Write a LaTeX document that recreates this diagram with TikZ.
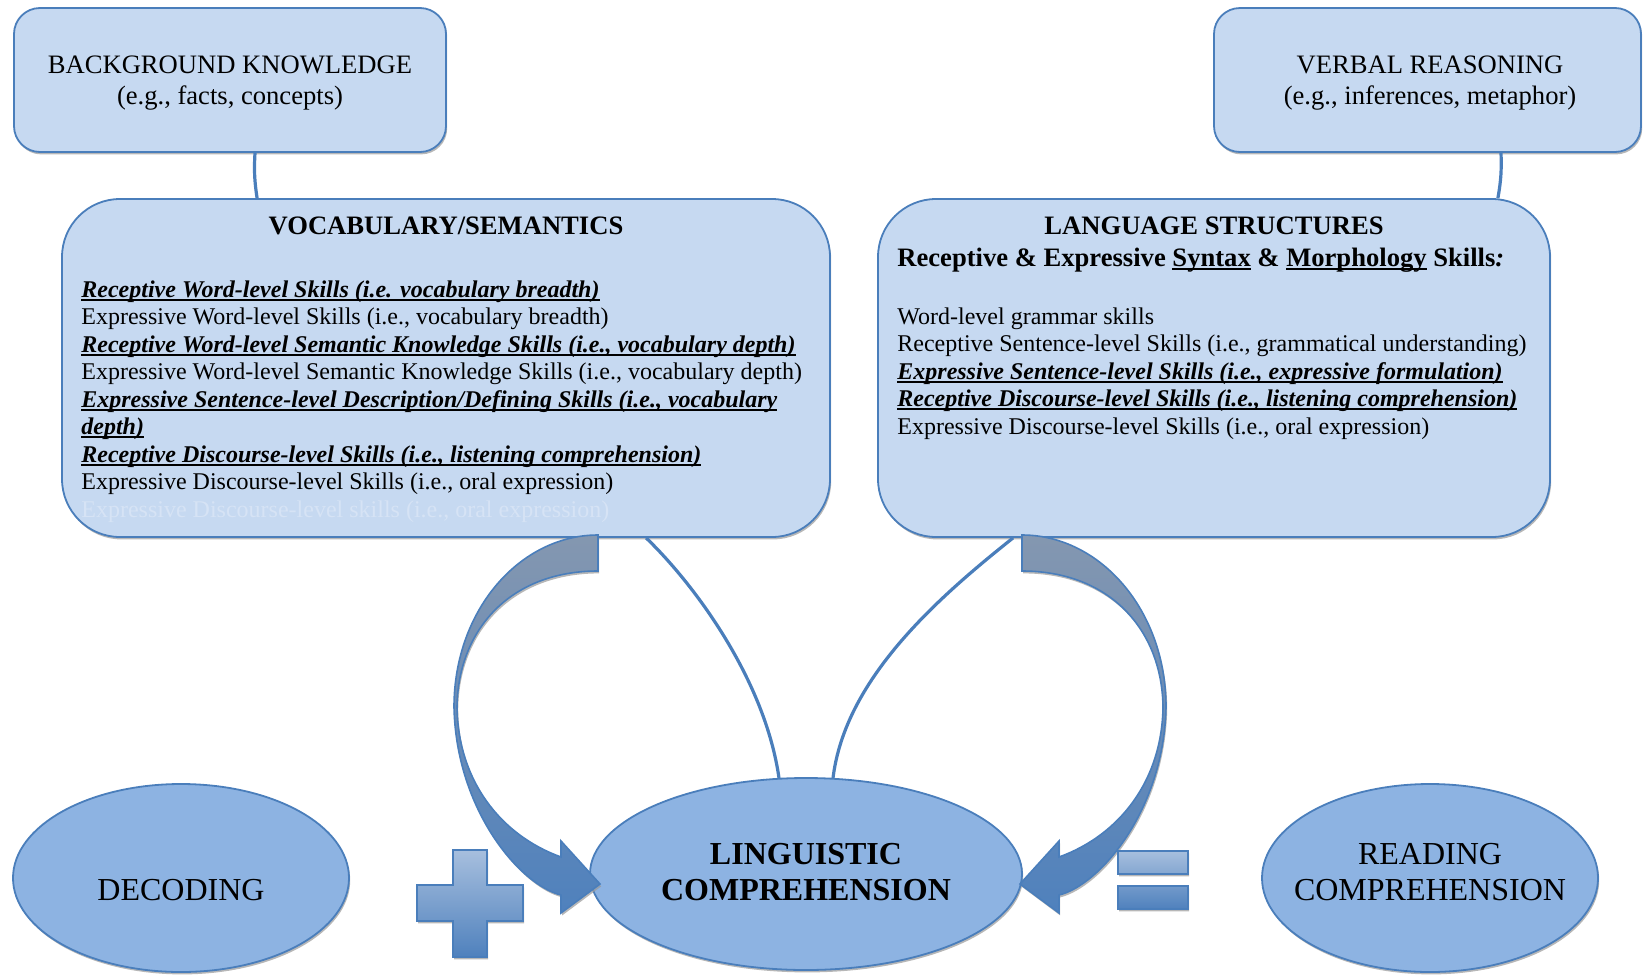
\documentclass[tikz,border=0pt]{standalone}
\usepackage{fontspec}
\setmainfont{Liberation Serif}
\usetikzlibrary{shapes.geometric,shadows,calc}
\definecolor{boxfill}{RGB}{198,217,241}
\definecolor{ovalfill}{RGB}{141,179,226}
\definecolor{edgeblue}{RGB}{74,126,187}
\definecolor{arrowgray}{RGB}{132,151,176}
\definecolor{arrowblue}{RGB}{79,129,189}
\definecolor{signtop}{RGB}{167,191,222}
\definecolor{faint}{RGB}{214,227,245}
\newcommand{\ulin}[1]{\setbox0\hbox{#1}\rlap{\vrule height -0.9pt depth 1.9pt width \wd0}\box0\relax}
\newcommand{\skillul}[1]{\ulin{\textbf{\textit{#1}}}}
\tikzset{
soft shadow/.style={drop shadow={shadow xshift=0.6pt,shadow yshift=-1.2pt,fill=black!40,opacity=.7}},
top box/.style={rectangle,rounded corners=13pt,draw=edgeblue,line width=0.9pt,fill=boxfill,soft shadow,minimum height=72pt},
top text/.style={align=center,inner sep=0pt,font=\fontsize{13.3}{15.7}\selectfont},
skill box/.style={rectangle,rounded corners=29pt,draw=edgeblue,line width=0.9pt,fill=boxfill,soft shadow,minimum height=169pt},
box title/.style={anchor=base,inner sep=0pt,font=\fontsize{13.3}{16}\selectfont\bfseries},
skill text/.style={inner sep=0pt,align=left,anchor=north west,font=\fontsize{12}{13.75}\selectfont},
main oval/.style={ellipse,draw=edgeblue,line width=0.9pt,fill=ovalfill,soft shadow,inner sep=0pt},
oval text/.style={align=center,inner sep=0pt,font=\fontsize{16}{18.3}\selectfont},
link/.style={draw=edgeblue,line width=1.6pt},
block arrow/.style={draw=edgeblue,line width=0.8pt,top color=arrowgray,bottom color=arrowblue,soft shadow},
sign/.style={draw=edgeblue,line width=0.8pt,top color=signtop,bottom color=arrowblue,soft shadow}}

\begin{document}
\begin{tikzpicture}[x=0.5pt,y=-0.5pt]
\useasboundingbox (0,0) rectangle (1643,975);

% top boxes
\node[top box,minimum width=216pt] (bk) at (230,80) {};
\node[top box,minimum width=213.5pt] (vr) at (1427.5,80) {};
\node[top text] (bktxt) at (230,83) {BACKGROUND KNOWLEDGE\\(e.g., facts, concepts)};
\node[top text] (vrtxt) at (1430,83) {VERBAL REASONING\\(e.g., inferences, metaphor)};

% skill boxes
\node[skill box,minimum width=384pt] (vocab) at (446,368) {};
\node[skill box,minimum width=336pt] (lang) at (1214,368) {};

\node[box title] (vocabtitle) at (446,234) {VOCABULARY/SEMANTICS};
\node[box title] (langtitle) at (1214,234) {LANGUAGE STRUCTURES};
\node[box title,anchor=base west] (langsub) at (897,266) {Receptive \& Expressive \ulin{Syntax} \& \ulin{Morphology} Skills\textit{:}};

\node[skill text] (vocabtxt) at (81,280) {%
\skillul{Receptive Word-level Skills (i.e. vocabulary breadth)}\\
Expressive Word-level Skills (i.e., vocabulary breadth)\\
\skillul{Receptive Word-level Semantic Knowledge Skills (i.e., vocabulary depth)}\\
Expressive Word-level Semantic Knowledge Skills (i.e., vocabulary depth)\\
\skillul{Expressive Sentence-level Description/Defining Skills (i.e., vocabulary}\\
\skillul{depth)}\\
\skillul{Receptive Discourse-level Skills (i.e., listening comprehension)}\\
Expressive Discourse-level Skills (i.e., oral expression)\\
\textcolor{faint}{Expressive Discourse-level skills (i.e., oral expression)}};

\node[skill text] (langtxt) at (897,307) {%
Word-level grammar skills\\
Receptive Sentence-level Skills (i.e., grammatical understanding)\\
\skillul{Expressive Sentence-level Skills (i.e., expressive formulation)}\\
\skillul{Receptive Discourse-level Skills (i.e., listening comprehension)}\\
Expressive Discourse-level Skills (i.e., oral expression)};

% bottom row
\node[main oval,minimum width=168pt,minimum height=94pt] (dec) at (181,878) {};
\node[main oval,minimum width=216pt,minimum height=96pt] (ling) at (806,874) {};
\node[main oval,minimum width=168pt,minimum height=94pt] (read) at (1430,878) {};
\node[oval text,anchor=base] (dectxt) at (181,900) {DECODING};
\node[oval text,font=\fontsize{16}{18.3}\selectfont\bfseries] (lingtxt) at (806,872) {LINGUISTIC\\COMPREHENSION};
\node[oval text] (readtxt) at (1430,872) {READING\\COMPREHENSION};

% links
\draw[link] ($(bk.south)+(25,0)$) to[bend right=6] ($(vocab.north west)+(196,0)$);
\draw[link] ($(vr.south)+(73.5,0)$) to[bend left=6] ($(lang.north east)+(-53,0)$);
\draw[link] ($(vocab.south west)+(585,0)$) .. controls (695,585) and (765,680) .. ($(ling.north)+(-27,1)$);
\draw[link] ($(lang.south west)+(136,0)$) .. controls (935,600) and (845,680) .. ($(ling.north)+(27,1)$);

% curved block arrows
\draw[block arrow] (598,535) .. controls (520,535) and (454,610) .. (454,707)
  .. controls (456,810) and (520,885) .. (561,895) -- (561,913) -- (600,884) -- (561,841) -- (561,857)
  .. controls (500,835) and (458,780) .. (457,707) .. controls (458,630) and (510,571) .. (598,571) -- cycle;
\draw[block arrow] (1022,535) .. controls (1100,535) and (1166,610) .. (1166,707)
  .. controls (1164,810) and (1100,885) .. (1059,895) -- (1059,913) -- (1020,884) -- (1059,841) -- (1059,857)
  .. controls (1120,835) and (1162,780) .. (1163,707) .. controls (1162,630) and (1110,571) .. (1022,571) -- cycle;

% plus and equals
\draw[sign] (453,850) -- (487,850) -- (487,885) -- (523,885) -- (523,921) -- (487,921) -- (487,957)
  -- (453,957) -- (453,921) -- (417,921) -- (417,885) -- (453,885) -- cycle;
\draw[sign] (1118,851) rectangle (1188,874) (1118,886) rectangle (1188,909);

\end{tikzpicture}
\end{document}
